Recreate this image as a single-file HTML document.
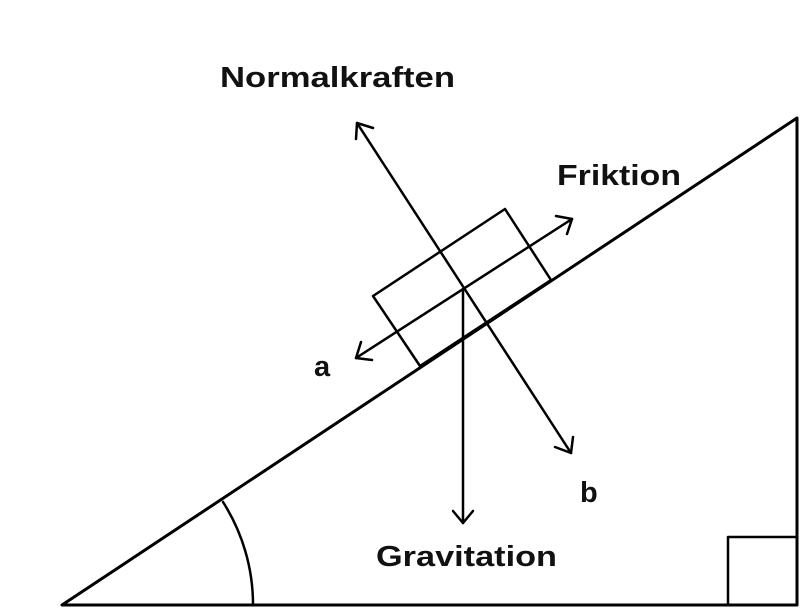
<!DOCTYPE html>
<html><head><style>html,body{margin:0;padding:0;background:#fff}svg{display:block}</style></head>
<body>
<svg width="800" height="613" viewBox="0 0 800 613" xmlns="http://www.w3.org/2000/svg">
<g fill="none" stroke="#000" stroke-width="3" stroke-linecap="round" stroke-linejoin="round">
<polygon points="62,605 797,118 797,605"/>
<path d="M223,502 A191,191 0 0 1 253,605" stroke-width="2.5"/>
<polyline points="728,605 728,537 797,537" stroke-width="2.5"/>
<polygon points="373,296 505,209 551,280 420,366" stroke-width="2.5"/>
<line x1="357" y1="123" x2="571" y2="453" stroke-width="2.5"/>
<polyline points="356,139 357,123 373,128" stroke-width="2.5"/>
<polyline points="555,447 571,453 573,437" stroke-width="2.5"/>
<line x1="356" y1="358" x2="572" y2="219" stroke-width="2.5"/>
<polyline points="556,216 572,219 567,234" stroke-width="2.5"/>
<polyline points="361,342 356,358 372,360" stroke-width="2.5"/>
<line x1="463" y1="289" x2="463" y2="523" stroke-width="2.5"/>
<polyline points="453,511 463,523 473,511" stroke-width="2.5"/>
</g>
<g font-family="Liberation Sans, sans-serif" font-weight="bold" font-size="29" fill="#111">
<text x="220" y="87" textLength="235" lengthAdjust="spacingAndGlyphs">Normalkraften</text>
<text x="557" y="185" textLength="124" lengthAdjust="spacingAndGlyphs">Friktion</text>
<text x="314" y="376">a</text>
<text x="580" y="502">b</text>
<text x="376" y="566" textLength="181" lengthAdjust="spacingAndGlyphs">Gravitation</text>
</g>
</svg>
</body></html>
